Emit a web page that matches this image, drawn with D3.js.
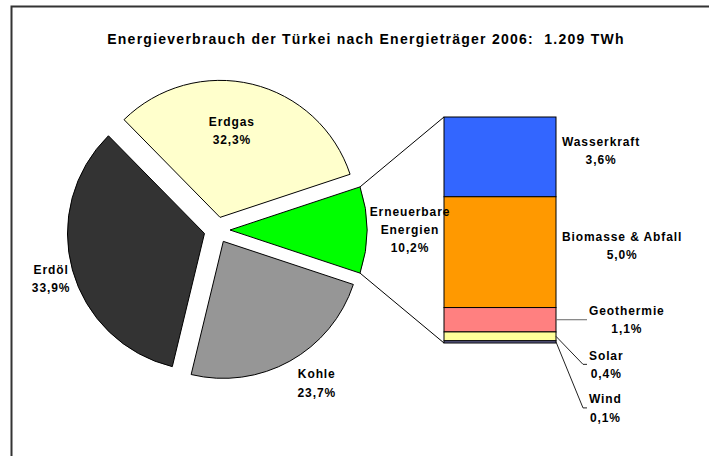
<!DOCTYPE html>
<html>
<head>
<meta charset="utf-8">
<script src="https://cdn.jsdelivr.net/npm/d3@7"></script>
<style>
  html, body { margin: 0; padding: 0; background: #fff; overflow: hidden; }
  svg { display: block; }
  svg text { font-family: "Liberation Sans", Arial, sans-serif; font-weight: bold; fill: #000; }
</style>
</head>
<body>
<div id="root"></div>
<script>
// Data
const title = "Energieverbrauch der Türkei nach Energieträger 2006:  1.209 TWh";

const mainNames = ["Erneuerbare Energien", "Kohle", "Erdöl", "Erdgas"];
const mainValues = [10.2, 23.7, 33.9, 32.3];
const mainColors = ["#00ff00", "#969696", "#333333", "#ffffcc"];

const subNames = ["Wasserkraft", "Biomasse & Abfall", "Geothermie", "Solar", "Wind"];
const subValues = [3.6, 5.0, 1.1, 0.4, 0.1];
const subColors = ["#3366ff", "#ff9900", "#ff8080", "#ffff99", "#666699"];

const width = 709;
const height = 456;

const fmt = (v) => d3.format(".1f")(v).replace(".", ",") + "%";

// General Document Structure
const svg = d3
  .select("#root")
  .append("svg")
  .attr("width", width)
  .attr("height", height);

// chart border (only top and left edges fall inside the frame)
svg
  .append("path")
  .attr("d", `M11.5,${height}V6.5H${width}`)
  .attr("fill", "none")
  .attr("stroke", "#333")
  .attr("stroke-width", 2);

svg
  .append("text")
  .attr("x", 366)
  .attr("y", 44)
  .attr("text-anchor", "middle")
  .attr("font-size", "14px")
  .attr("letter-spacing", "1.25px")
  .style("white-space", "pre")
  .text(title);

// Pie
const cx = 217;
const cy = 230;
const radius = 137;
const explode = 13;

const total = d3.sum(mainValues);
const start = Math.PI / 2 - Math.PI * (mainValues[0] / total);
const pie = d3
  .pie()
  .sort(null)
  .startAngle(start)
  .endAngle(start + 2 * Math.PI);
const arcs = pie(mainValues);
const arc = d3.arc().innerRadius(0).outerRadius(radius);

const polar = (a, r) => [Math.sin(a) * r, -Math.cos(a) * r];

const pieG = svg.append("g").attr("transform", `translate(${cx},${cy})`);

pieG
  .selectAll("path")
  .data(arcs)
  .enter()
  .append("path")
  .attr("d", arc)
  .attr("transform", (d) => {
    const [dx, dy] = polar((d.startAngle + d.endAngle) / 2, explode);
    return `translate(${dx},${dy})`;
  })
  .attr("fill", (d, i) => mainColors[i])
  .attr("stroke", "#000")
  .attr("stroke-width", 1);

// Bar of the "Erneuerbare" slice
const barX = 444;
const barW = 112;
const subTotal = d3.sum(subValues);
const y = d3.scaleLinear().domain([0, subTotal]).range([343, 117]);

let acc = subTotal;
const stacked = subValues.map((v, i) => {
  const seg = { name: subNames[i], value: v, top: acc, bottom: acc - v, i };
  acc -= v;
  return seg;
});

// connector lines from the slice to the bar
const ren = arcs[0];
const renOff = polar((ren.startAngle + ren.endAngle) / 2, explode);
const p1 = polar(ren.startAngle, radius);
const p2 = polar(ren.endAngle, radius);
svg
  .append("line")
  .attr("x1", cx + renOff[0] + p1[0])
  .attr("y1", cy + renOff[1] + p1[1])
  .attr("x2", barX)
  .attr("y2", y(subTotal))
  .attr("stroke", "#000");
svg
  .append("line")
  .attr("x1", cx + renOff[0] + p2[0])
  .attr("y1", cy + renOff[1] + p2[1])
  .attr("x2", barX)
  .attr("y2", y(0))
  .attr("stroke", "#000");

svg
  .append("g")
  .selectAll("rect")
  .data(stacked)
  .enter()
  .append("rect")
  .attr("x", barX)
  .attr("y", (d) => y(d.top))
  .attr("width", barW)
  .attr("height", (d) => y(d.bottom) - y(d.top))
  .attr("fill", (d) => subColors[d.i])
  .attr("stroke", "#000")
  .attr("stroke-width", 1);

// Labels
const lineH = 18.2;

function block(x, yMid, lines) {
  const t = svg
    .append("text")
    .attr("font-size", "12px")
    .attr("letter-spacing", "0.9px")
    .attr("text-anchor", "middle");
  lines.forEach((s, k) => {
    t.append("tspan")
      .attr("x", x)
      .attr("y", yMid + 4 + (k - (lines.length - 1) / 2) * lineH)
      .text(s);
  });
  return t;
}

// block whose left edge is fixed, lines centred inside it
function leftBlock(left, baseline, lines) {
  const t = block(0, 0, lines);
  let w = 0;
  t.selectAll("tspan").each(function () {
    w = Math.max(w, this.getComputedTextLength());
  });
  t.selectAll("tspan")
    .attr("x", left + w / 2)
    .attr("y", (d, k) => baseline + k * lineH);
}

// pie label placement: [distance from centre, angle offset in degrees]
const pieLabelPos = [
  [193, 0],
  [183, -4],
  [173, -1],
  [100, -5],
];
arcs.forEach((d, i) => {
  const [r, da] = pieLabelPos[i];
  const a = (d.startAngle + d.endAngle) / 2 + (da * Math.PI) / 180;
  const [lx, ly] = polar(a, r);
  const lines = mainNames[i].split(" ").concat([fmt(d.data)]);
  block(cx + lx, cy + ly, lines);
});

// bar labels: big segments beside the bar, small ones with leader lines
const leaderDrop = [null, null, 0, 28, 66];
stacked.forEach((d) => {
  const midY = (y(d.top) + y(d.bottom)) / 2;
  const lines = [d.name, fmt(d.value)];
  if (leaderDrop[d.i] === null) {
    leftBlock(barX + barW + 6, midY - 11, lines);
  } else {
    const endY = midY + leaderDrop[d.i];
    const pts =
      leaderDrop[d.i] === 0
        ? [[barX + barW, midY], [587, endY]]
        : [[barX + barW, midY], [583, endY], [587, endY]];
    svg
      .append("path")
      .attr("d", d3.line()(pts))
      .attr("fill", "none")
      .attr("stroke", d.i === 2 ? "#666" : "#222")
      .attr("stroke-width", 1);
    leftBlock(589, endY - 4.5, lines);
  }
});
</script>
</body>
</html>
